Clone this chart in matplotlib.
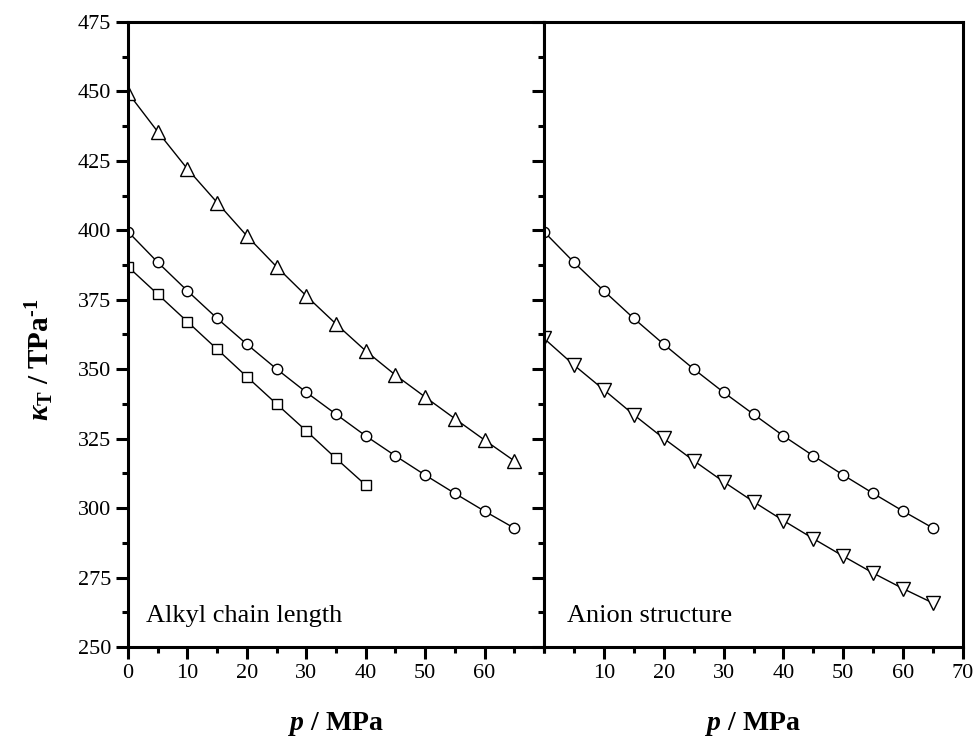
import numpy as np
import matplotlib
matplotlib.use('Agg')
import matplotlib.pyplot as plt
from matplotlib.ticker import MultipleLocator

plt.rcParams['font.family'] = ['Liberation Serif', 'DejaVu Serif']
plt.rcParams['mathtext.fontset'] = 'custom'
plt.rcParams['mathtext.rm'] = 'Liberation Serif:bold'
plt.rcParams['mathtext.it'] = 'Liberation Serif:italic:bold'
plt.rcParams['mathtext.bf'] = 'Liberation Serif:bold'

# 压力 / MPa
p_full = [0, 5, 10, 15, 20, 25, 30, 35, 40, 45, 50, 55, 60, 65]
p_short = [0, 5, 10, 15, 20, 25, 30, 35, 40]

# 左图：烷基链长度
kappa_tri = [449.5, 435.5, 422.1, 410.0, 398.0, 386.9, 376.4, 366.3, 356.6, 347.9, 340.0, 332.2, 324.5, 317.0]
kappa_circ = [399.5, 388.5, 378.2, 368.3, 359.0, 350.1, 341.7, 333.8, 326.0, 318.8, 311.9, 305.3, 298.9, 292.8]
kappa_sq = [386.9, 377.0, 367.1, 357.2, 347.3, 337.5, 327.8, 317.9, 308.3]

# 右图：阴离子结构
kappa_circ_r = kappa_circ
kappa_dtri = [361.1, 351.5, 342.6, 333.6, 325.1, 317.1, 309.5, 302.3, 295.5, 289.0, 282.7, 276.6, 271.0, 265.8]

W, H = 975, 742
fig = plt.figure(figsize=(W / 100, H / 100), dpi=100)
x0, xm, x1 = 128 / W, 544 / W, 963 / W
yb, yt = 1 - 647 / H, 1 - 22 / H
ax1 = fig.add_axes([x0, yb, xm - x0, yt - yb])
ax2 = fig.add_axes([xm, yb, x1 - xm, yt - yb], sharey=ax1)

mk = dict(color='black', lw=1.0, mfc='white', mec='black', mew=1.0)
ax1.plot(p_full, kappa_tri, marker='^', ms=10.5, **mk)
ax1.plot(p_full, kappa_circ, marker='o', ms=7.5, **mk)
ax1.plot(p_short, kappa_sq, marker='s', ms=7, **mk)
ax2.plot(p_full, kappa_circ_r, marker='o', ms=7.5, **mk)
ax2.plot(p_full, kappa_dtri, marker='v', ms=10.5, **mk)

for ax in (ax1, ax2):
    ax.set_xlim(0, 70)
    ax.set_ylim(250, 475)
    ax.xaxis.set_major_locator(MultipleLocator(10))
    ax.xaxis.set_minor_locator(MultipleLocator(5))
    ax.yaxis.set_major_locator(MultipleLocator(25))
    ax.yaxis.set_minor_locator(MultipleLocator(12.5))
    for s in ax.spines.values():
        s.set_linewidth(2.2)
    ax.tick_params(which='both', direction='out', width=2.2, top=False, right=False, labelsize=16)
    ax.tick_params(which='major', length=8.5)
    ax.tick_params(which='minor', length=4.5)
    ax.set_xlabel(r'$p$ / MPa', fontsize=20, fontweight='bold')
    ax.xaxis.set_label_coords(0.5, -0.1)

ax1.set_xticks([0, 10, 20, 30, 40, 50, 60])
ax1.set_xticks(np.arange(0, 71, 5), minor=True)
ax2.set_xticks([10, 20, 30, 40, 50, 60, 70])
ax2.set_xticks(np.arange(0, 71, 5), minor=True)
ax2.tick_params(axis='y', labelleft=False)

ax1.text(3, 259, 'Alkyl chain length', fontsize=19, va='baseline')
ax2.text(3.8, 259, 'Anion structure', fontsize=19, va='baseline')

fig.text(40 / W, 1 - 360 / H, r'$\kappa_{\rm T}$ / TPa$^{\text{-1}}$', rotation=90,
         fontsize=21, fontweight='bold', ha='center', va='center')

fig.savefig('out.png', dpi=100)
